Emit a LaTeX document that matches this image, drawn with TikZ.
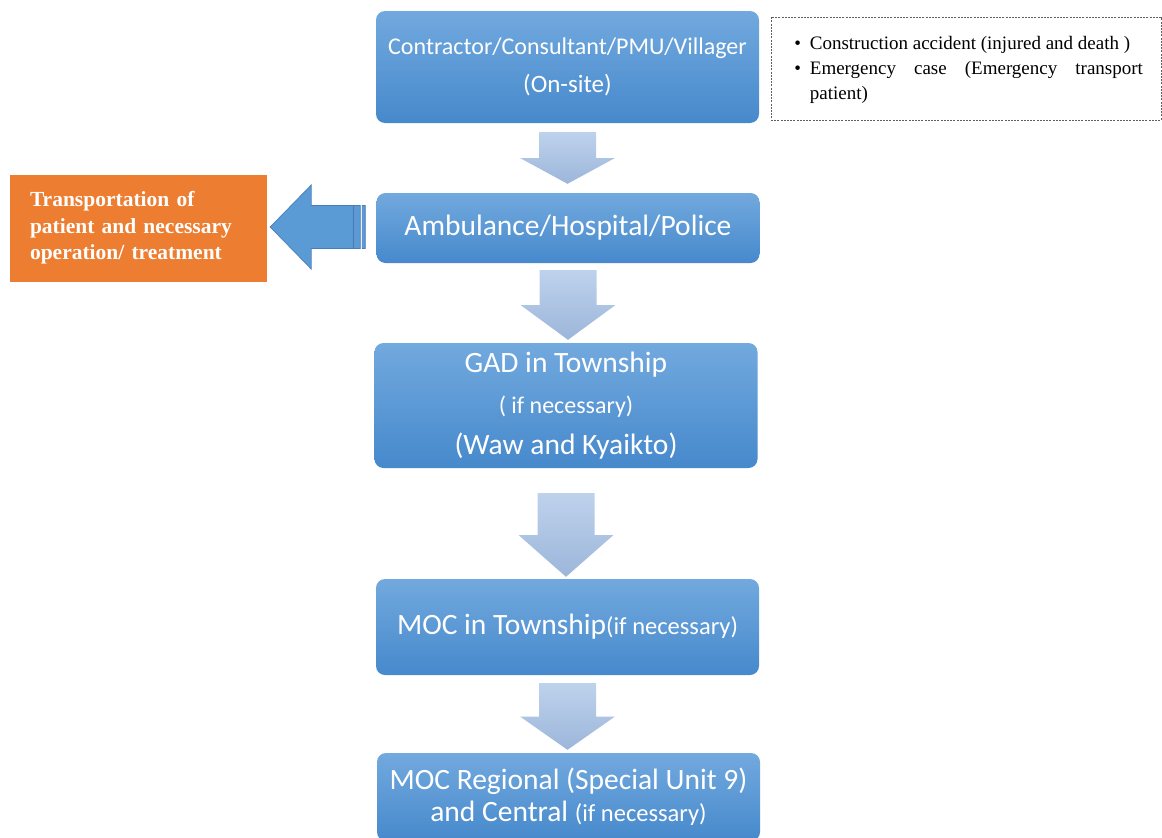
\documentclass[tikz,border=0pt]{standalone}
\usepackage{fontspec}
\setmainfont{Carlito}
\newfontfamily\timesfont{Liberation Serif}
\usetikzlibrary{calc}

\definecolor{boxtop}{HTML}{72A9DE}
\definecolor{boxbottom}{HTML}{4689CC}
\definecolor{arrtop}{HTML}{BED2EC}
\definecolor{arrbottom}{HTML}{9CB6DA}
\definecolor{sidefill}{HTML}{5B9BD5}
\definecolor{sideline}{HTML}{4A7EBB}
\definecolor{orangefill}{HTML}{ED7D31}
\definecolor{noteline}{HTML}{606060}

\newcommand{\fs}[2]{\fontsize{#1}{#2}\selectfont}

% block arrow from the foot of node #1 to the head of node #2 (gaps #3, #4)
\newcommand{\flowarrow}[4]{%
  \shade[arrowshade] let \p1=($(#1.south)+(0,#3)$), \p2=($(#2.north)+(0,-#4)$),
      \p3=($(\p1)!0.5!(\p2)$) in
    (\x1-28.5,\y1) -- (\x1+28.5,\y1) -- (\x1+28.5,\y3) -- (\x1+47.5,\y3)
    -- (\x1,\y2) -- (\x1-47.5,\y3) -- (\x1-28.5,\y3) -- cycle;}

\begin{document}
\begin{tikzpicture}[x=1pt, y=-1pt,
	stagebox/.style={rounded corners=9pt, top color=boxtop, bottom color=boxbottom, draw=none,
		text=white, align=center, inner sep=0pt, minimum width=383},
	arrowshade/.style={top color=arrtop, bottom color=arrbottom, draw=none},
	sidearrow/.style={fill=sidefill, draw=sideline, line width=0.7pt},
	sidebox/.style={fill=orangefill, draw=none, text=white, align=left, inner xsep=20pt,
		text width=217, minimum width=257, minimum height=107,
		font=\timesfont\bfseries\fs{21.5}{26.5}},
	notebox/.style={draw=noteline, line width=0.6pt, dash pattern=on 2pt off 1.2pt,
		minimum width=390, minimum height=103, inner sep=0pt},
	notetext/.style={text width=347, align=justify, inner sep=0pt,
		font=\timesfont\fs{19}{25}}]
	\useasboundingbox (0,0) rectangle (1162,838);

	% stages
	\node[stagebox, minimum height=112, font=\fs{24}{38}] (onsite) at (567.5,67)
		{Contractor/Consultant/PMU/Villager\\{\fs{25}{38}(On-site)}};
	\node[stagebox, minimum height=70, font=\fs{29.5}{35}] (ambulance) at (568,228)
		{Ambulance/Hospital/Police};
	\node[stagebox, minimum height=125, font=\fs{29.5}{41}] (gad) at (566,405.5)
		{GAD in Township\\{\fs{24}{41}( if necessary)}\\(Waw and Kyaikto)};
	\node[stagebox, minimum height=96, font=\fs{29.5}{35}] (moctown) at (567.5,627)
		{MOC in Township{\fs{24.5}{35}(if necessary)}};
	\node[stagebox, minimum height=88, font=\fs{29.5}{32}] (mocreg) at (568.5,797)
		{MOC Regional (Special Unit 9)\\and Central {\fs{24.5}{32}(if necessary)}};

	% side boxes
	\node[sidebox] (transport) at (138.5,228)
		{Transportation of\\patient and necessary\\operation/ treatment};
	\node[notebox] (cases) at (966,68.5) {};
	\node[notetext, anchor=north west] (caselist) at ($(cases.north west)+(25,19)$)
		{\setlength{\leftskip}{14pt}\setlength{\parindent}{0pt}\hyphenpenalty=10000
		\leavevmode\llap{\textbullet\hspace{9pt}}Construction accident (injured and death )\par
		\leavevmode\llap{\textbullet\hspace{9pt}}Emergency case (Emergency transport patient)\par};

	% arrows
	\flowarrow{onsite}{ambulance}{9}{9}
	\flowarrow{ambulance}{gad}{7}{3}
	\flowarrow{gad}{moctown}{25}{2}
	\flowarrow{moctown}{mocreg}{8}{3}

	\path[sidearrow] let \p1=($(ambulance.west)+(-11,-1)$), \p2=($(transport.east)+(3,0)$) in
		(\x2,\y1) -- (\x2+41,\y1+42) -- (\x2+41,\y1+21.5) -- (\x1-12,\y1+21.5)
		-- (\x1-12,\y1-21.5) -- (\x2+41,\y1-21.5) -- (\x2+41,\y1-42) -- cycle
		(\x1-11,\y1+21.5) rectangle (\x1-5,\y1-21.5)
		(\x1-3,\y1+21.5) rectangle (\x1,\y1-21.5);
\end{tikzpicture}
\end{document}
